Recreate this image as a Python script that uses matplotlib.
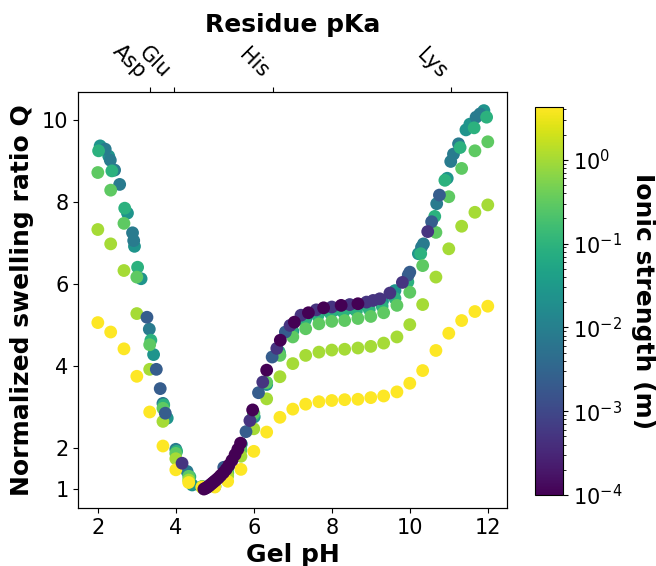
import matplotlib
matplotlib.use("Agg")
import matplotlib.pyplot as plt
from matplotlib.colors import LogNorm
from matplotlib.ticker import LogLocator

# ---- swelling data: gel pH, normalized swelling ratio Q, ionic strength (m) ----
ph_grid = [2.0, 2.33, 2.67, 3.0, 3.33, 3.67, 4.0, 4.33, 4.67, 5.0, 5.33, 5.67,
           6.0, 6.33, 6.67, 7.0, 7.33, 7.67, 8.0, 8.33, 8.67, 9.0, 9.33, 9.67,
           10.0, 10.33, 10.67, 11.0, 11.33, 11.67, 12.0]

# high salt
q_salt_4 = [5.06, 4.83, 4.42, 3.75, 2.88, 2.05, 1.47, 1.16, 1.05, 1.05, 1.19, 1.48,
            1.92, 2.39, 2.75, 2.95, 3.07, 3.13, 3.16, 3.18, 3.19, 3.23, 3.27, 3.37,
            3.58, 3.89, 4.38, 4.80, 5.11, 5.33, 5.46]
i_salt_4 = 4.2

q_salt_1 = [7.33, 6.98, 6.33, 5.28, 3.92, 2.65, 1.74, 1.22, 1.04, 1.07, 1.32, 1.80,
            2.47, 3.20, 3.74, 4.06, 4.26, 4.34, 4.39, 4.41, 4.44, 4.48, 4.56, 4.71,
            5.01, 5.50, 6.17, 6.86, 7.41, 7.75, 7.93]
i_salt_1 = 1.0

q_salt_03 = [8.72, 8.29, 7.48, 6.17, 4.52, 2.97, 1.87, 1.31, 1.06, 1.06, 1.38, 1.95,
             2.85, 3.60, 4.26, 4.71, 4.91, 5.03, 5.09, 5.11, 5.16, 5.21, 5.30, 5.48,
             5.80, 6.45, 7.26, 8.13, 8.82, 9.25, 9.47]
i_salt_03 = 0.3

# intermediate salt
ph_salt_01 = [2.02, 2.36, 2.69, 3.02, 3.36, 3.69, 4.02, 4.36, 4.68, 5.0, 5.33, 5.66,
              5.99, 6.32, 6.65, 6.98, 7.31, 7.64, 7.97, 8.3, 8.63, 8.96, 9.29, 9.62,
              9.95, 10.28, 10.64, 10.9, 11.29, 11.65, 11.97]
q_salt_01 = [9.25, 8.76, 7.85, 6.41, 4.63, 3.05, 1.92, 1.30, 1.06, 1.07, 1.40, 2.00,
             2.80, 3.60, 4.35, 4.85, 5.10, 5.22, 5.28, 5.31, 5.34, 5.38, 5.46, 5.65,
             6.05, 6.74, 7.65, 8.53, 9.33, 9.81, 10.07]
i_salt_01 = 0.09

ph_salt_003 = [2.06, 2.28, 2.76, 2.94, 3.11, 3.43, 3.78, 4.42, 5.35, 5.68, 6.01, 6.33,
               6.66, 7.0, 7.33, 7.7, 8.1, 8.5, 8.9, 9.3, 9.62, 10.22, 10.96, 11.44,
               11.54, 11.9]
q_salt_003 = [9.37, 9.12, 7.73, 6.92, 6.13, 4.28, 2.73, 1.10, 1.55, 2.10, 2.76, 3.55,
              4.30, 4.85, 5.15, 5.33, 5.38, 5.42, 5.47, 5.58, 5.84, 6.74, 8.58, 9.76,
              9.90, 10.23]
i_salt_003 = 0.025

ph_salt_001 = [2.19, 2.32, 2.43, 2.56, 2.89, 2.92, 3.32, 3.67, 4.0, 4.29, 10.3, 10.35,
               10.69, 11.05, 11.12, 11.25, 11.7, 11.8]
q_salt_001 = [9.29, 9.02, 8.78, 8.43, 7.25, 7.06, 4.90, 3.09, 1.97, 1.43, 6.90, 6.98,
              7.96, 8.99, 9.17, 9.42, 10.07, 10.15]
i_salt_001 = 0.008

# low salt
ph_salt_0002 = [3.26, 3.5, 3.6, 3.73, 5.23, 5.8, 6.12, 6.47, 6.81, 9.96, 10.0, 10.56,
                10.76]
q_salt_0002 = [5.19, 3.92, 3.45, 2.85, 1.53, 2.40, 3.35, 4.22, 4.83, 6.22, 6.29, 7.52,
               8.17]
i_salt_0002 = 0.0022

ph_salt_00005 = [4.16, 5.9, 6.23, 6.59, 6.93, 7.21, 7.6, 8.0, 8.46, 8.89, 9.06, 9.23,
                 9.49, 9.81, 10.46]
q_salt_00005 = [1.63, 2.67, 3.61, 4.43, 4.99, 5.24, 5.37, 5.44, 5.50, 5.56, 5.60, 5.64,
                5.78, 6.04, 7.28]
i_salt_00005 = 0.0005

ph_salt_00001 = [4.72, 4.76, 4.8, 4.84, 4.88, 4.93, 4.98, 5.03, 5.09, 5.15, 5.22, 5.29,
                 5.36, 5.44, 5.52, 5.59, 5.66, 5.97, 6.33, 6.68, 7.04, 7.4, 7.79, 8.24,
                 8.67]
q_salt_00001 = [1.00, 1.02, 1.04, 1.07, 1.10, 1.14, 1.18, 1.22, 1.27, 1.33, 1.40, 1.48,
                1.58, 1.70, 1.84, 1.97, 2.12, 2.93, 3.90, 4.63, 5.07, 5.30, 5.42, 5.48,
                5.52]
i_salt_00001 = 0.0001

# residue pKa markers on the top axis
residues = ["Asp", "Glu", "His", "Lys"]
residue_pka = [3.33, 3.96, 6.48, 11.05]

ionic_min, ionic_max = 1e-4, 4.27

series = [
    (ph_salt_003, q_salt_003, i_salt_003),
    (ph_salt_001, q_salt_001, i_salt_001),
    (ph_salt_01, q_salt_01, i_salt_01),
    (ph_grid, q_salt_03, i_salt_03),
    (ph_grid, q_salt_1, i_salt_1),
    (ph_grid, q_salt_4, i_salt_4),
    (ph_salt_0002, q_salt_0002, i_salt_0002),
    (ph_salt_00005, q_salt_00005, i_salt_00005),
    (ph_salt_00001, q_salt_00001, i_salt_00001),
]

fig = plt.figure(figsize=(6.56, 5.66), dpi=100)
ax = fig.add_axes([0.1194, 0.1025, 0.6539, 0.7355])
cax = fig.add_axes([0.8163, 0.1254, 0.0419, 0.6855])

norm = LogNorm(vmin=ionic_min, vmax=ionic_max)
sc = None
for ph, q, ionic in series:
    sc = ax.scatter(ph, q, c=[ionic] * len(ph), cmap="viridis", norm=norm, s=85,
                    linewidths=0)

ax.set_xticks([2, 4, 6, 8, 10, 12])
ax.set_yticks([1, 2, 4, 6, 8, 10])
ax.tick_params(labelsize=15)
ax.set_xlabel("Gel pH", fontsize=18, fontweight="bold", labelpad=4)
ax.set_ylabel("Normalized swelling ratio Q", fontsize=18, fontweight="bold", labelpad=6)

ax_top = ax.twiny()
ax_top.set_xlim(ax.get_xlim())
ax_top.set_xticks(residue_pka)
ax_top.set_xticklabels(residues, rotation=-45, ha="right", fontsize=15)
ax_top.set_xlabel("Residue pKa", fontsize=18, fontweight="bold", labelpad=6)

cb = fig.colorbar(sc, cax=cax)
cb.ax.tick_params(labelsize=15)
cb.set_label("Ionic strength (m)", fontsize=18, fontweight="bold", rotation=270,
             labelpad=24)

fig.savefig("out.png", dpi=100)
